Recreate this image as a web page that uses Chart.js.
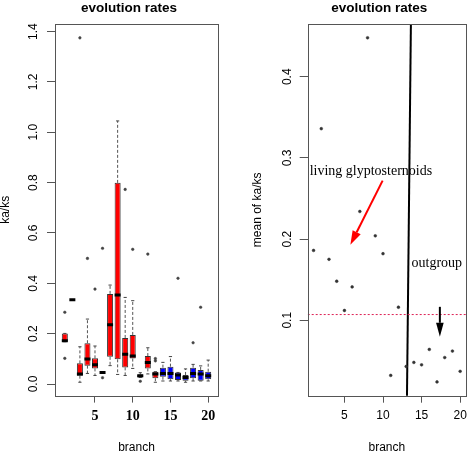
<!DOCTYPE html>
<html><head><meta charset="utf-8">
<script src="https://cdn.jsdelivr.net/npm/chart.js@4.4.1/dist/chart.umd.min.js"></script>
<style>
html,body{margin:0;padding:0;background:#fff;}
#wrap{position:relative;width:473px;height:451px;overflow:hidden;background:#fff;}
#c1{position:absolute;left:0;top:0;width:236px;height:451px;}
#c2{position:absolute;left:236px;top:0;width:237px;height:451px;}
</style></head><body>
<div id="wrap"><canvas id="c1" width="236" height="451"></canvas><canvas id="c2" width="237" height="451"></canvas></div>
<script>
// ---------- data: left panel (boxplots of ka/ks per branch) ----------
const branches = [1,2,3,4,5,6,7,8,9,10,11,12,13,14,15,16,17,18,19,20];
const branchGroup = ['in','in','in','in','in','in','in','in','in','in','in','in','in','out','out','out','out','out','out','out'];
const q1 =        [0.168,0.335,0.033,0.073,0.062,0.046,0.108,0.098,0.066,0.101,0.026,0.062,0.023,0.029,0.019,0.016,0.013,0.023,0.013,0.019];
const medians =   [0.172,0.335,0.040,0.099,0.077,0.046,0.235,0.354,0.118,0.111,0.033,0.085,0.040,0.042,0.042,0.036,0.026,0.042,0.040,0.033];
const q3 =        [0.201,0.335,0.082,0.162,0.102,0.046,0.358,0.799,0.183,0.195,0.038,0.111,0.049,0.065,0.069,0.046,0.036,0.065,0.056,0.049];
const whiskerLo = [0.168,0.335,0.007,0.042,0.034,0.046,0.073,0.038,0.034,0.062,0.026,0.040,0.007,0.012,0.012,0.012,0.007,0.012,0.012,0.012];
const whiskerHi = [0.201,0.335,0.148,0.258,0.151,0.046,0.393,1.045,0.344,0.331,0.045,0.144,0.049,0.086,0.109,0.046,0.060,0.078,0.072,0.095];
const outliers = [[0.285,0.102],[],[1.375],[0.499],[0.377],[0.539,0.025],[],[],[0.773],[0.535],[0.011],[0.516],[0.101,0.092],[],[],[0.42],[],[0.164],[0.305],[]];
const leftYTicks = [0.0,0.2,0.4,0.6,0.8,1.0,1.2,1.4];
const xTicks = [5,10,15,20];
const leftYRange = [-0.046, 1.43];
const leftXRange = [-0.3, 21.3];

// ---------- data: right panel (mean ka/ks per branch) ----------
const meanValues = [0.186,0.336,0.175,0.148,0.112,0.141,0.234,0.448,0.204,0.182,0.032,0.116,0.043,0.048,0.045,0.064,0.024,0.054,0.062,0.037];
const meanLine = 0.107;
const rightYTicks = [0.1,0.2,0.3,0.4];
const rightYRange = [0.007, 0.465];
const rightXRange = [0.24, 20.76];
const dividerX = [13.62, 13.1];
const dividerY = [0.47, 0.0];
const redArrowX = [9.95, 5.77];
const redArrowY = [0.272, 0.193];
const blackArrowX = [17.37, 17.37];
const blackArrowY = [0.1165, 0.0796];
const labelTexts = ['living glyptosternoids', 'outgroup'];
const labelX = [8.43, 16.97];
const labelY = [0.284, 0.170];

// ---------- helpers ----------
const SANS = "'Liberation Sans', Arial, sans-serif";
const SERIF = "'Liberation Serif', 'Times New Roman', serif";
Chart.defaults.font.family = SANS;
Chart.defaults.color = '#000';

function frameAndText(cfg) {
  return {
    id: 'frameAndText',
    afterDraw(chart) {
      const {ctx, chartArea: a} = chart;
      const ys = chart.scales.y;
      ctx.save();
      // frame
      ctx.strokeStyle = '#555'; ctx.lineWidth = 1;
      ctx.strokeRect(Math.round(a.left) + 0.5, Math.round(a.top) + 0.5, Math.round(a.right - a.left), Math.round(a.bottom - a.top));
      // rotated y tick labels
      ctx.fillStyle = '#000';
      ctx.font = '12px ' + SANS;
      ctx.textAlign = 'center'; ctx.textBaseline = 'middle';
      ys.ticks.forEach(t => {
        const py = ys.getPixelForValue(t.value);
        ctx.save(); ctx.translate(a.left - cfg.yLabelOffset, py); ctx.rotate(-Math.PI / 2);
        ctx.fillText(t.value.toFixed(1), 0, 0); ctx.restore();
      });
      // y axis title
      ctx.save(); ctx.translate(cfg.yTitleX, (a.top + a.bottom) / 2); ctx.rotate(-Math.PI / 2);
      ctx.fillText(cfg.yTitle, 0, 0); ctx.restore();
      // x axis title
      ctx.textBaseline = 'alphabetic';
      ctx.fillText('branch', (a.left + a.right) / 2, a.bottom + 55);
      // main title
      ctx.font = 'bold 13.5px ' + SANS;
      ctx.fillText('evolution rates', (a.left + a.right) / 2 - 7.5, 11.5);
      ctx.restore();
    }
  };
}

function fixedTicks(values) {
  return (scale) => { scale.ticks = values.map(v => ({value: v})); };
}

// ---------- left chart ----------
const boxColors = branchGroup.map(g => g === 'in' ? '#ff0000' : '#0000ff');
const whiskerPts = [];
const capPts = [];
branches.forEach((b, i) => {
  whiskerPts.push({x: b, y: q3[i]}, {x: b, y: whiskerHi[i]}, {x: b, y: null});
  whiskerPts.push({x: b, y: q1[i]}, {x: b, y: whiskerLo[i]}, {x: b, y: null});
  capPts.push({x: b, y: whiskerHi[i]}, {x: b, y: whiskerLo[i]});
});
const outlierPts = [];
branches.forEach((b, i) => outliers[i].forEach(v => outlierPts.push({x: b, y: v})));

new Chart(document.getElementById('c1'), {
  type: 'bar',
  data: {
    datasets: [
      {type: 'bar', data: branches.map((b, i) => ({x: b, y: [q1[i], q3[i]]})),
       backgroundColor: boxColors, borderColor: '#333', borderWidth: 1, borderSkipped: false,
       barPercentage: 0.8, categoryPercentage: 1, order: 2},
      {type: 'line', data: whiskerPts, borderColor: '#555', borderWidth: 1, borderDash: [3, 2],
       pointRadius: 0, spanGaps: false, order: 3},
      {type: 'line', showLine: false, data: capPts, pointStyle: 'line', pointRadius: 1.6,
       pointBorderWidth: 1, pointBorderColor: '#444', order: 1},
      {type: 'line', showLine: false, data: branches.map((b, i) => ({x: b, y: medians[i]})),
       pointStyle: 'line', pointRadius: 3, pointBorderWidth: 3, pointBorderColor: '#000', order: 0},
      {type: 'line', showLine: false, data: outlierPts, pointStyle: 'circle', pointRadius: 1.3,
       pointBackgroundColor: '#444', pointBorderColor: '#444', pointBorderWidth: 0.5, order: 0}
    ]
  },
  options: {
    responsive: false, animation: false, events: [],
    layout: {padding: {left: 0, right: 18, top: 24, bottom: 0}},
    plugins: {legend: {display: false}, tooltip: {enabled: false}},
    scales: {
      x: {type: 'linear', min: leftXRange[0], max: leftXRange[1], offset: false,
          afterBuildTicks: fixedTicks(xTicks), afterFit: (s) => { s.height = 55.4; },
          grid: {display: true, drawOnChartArea: false, drawTicks: true, tickLength: 7, color: '#555', offset: false},
          border: {display: false},
          ticks: {autoSkip: false, maxRotation: 0, padding: 5, color: '#000',
                  font: {family: SERIF, size: 14, weight: 'bold'}, callback: (v) => String(v)}},
      y: {type: 'linear', min: leftYRange[0], max: leftYRange[1],
          afterBuildTicks: fixedTicks(leftYTicks), afterFit: (s) => { s.width = 55; },
          grid: {display: true, drawOnChartArea: false, drawTicks: true, tickLength: 8, color: '#555'},
          border: {display: false},
          ticks: {display: false}}
    }
  },
  plugins: [frameAndText({yLabelOffset: 21, yTitleX: 6, yTitle: 'ka/ks'})]
});

// ---------- right chart ----------
function drawArrow(ctx, x1, y1, x2, y2, color, width, headLen, headHalf) {
  const ang = Math.atan2(y2 - y1, x2 - x1);
  const bx = x2 - Math.cos(ang) * headLen, by = y2 - Math.sin(ang) * headLen;
  ctx.strokeStyle = color; ctx.fillStyle = color; ctx.lineWidth = width;
  ctx.beginPath(); ctx.moveTo(x1, y1); ctx.lineTo(bx, by); ctx.stroke();
  ctx.beginPath(); ctx.moveTo(x2, y2);
  ctx.lineTo(bx + Math.sin(ang) * headHalf, by - Math.cos(ang) * headHalf);
  ctx.lineTo(bx - Math.sin(ang) * headHalf, by + Math.cos(ang) * headHalf);
  ctx.closePath(); ctx.fill();
}

const annotations = {
  id: 'annotations',
  beforeDatasetsDraw(chart) {
    const {ctx} = chart; const xs = chart.scales.x, ys = chart.scales.y;
    ctx.save();
    ctx.font = '14px ' + SERIF; ctx.fillStyle = '#000';
    ctx.textAlign = 'center'; ctx.textBaseline = 'middle';
    labelTexts.forEach((t, i) => ctx.fillText(t, xs.getPixelForValue(labelX[i]), ys.getPixelForValue(labelY[i])));
    ctx.restore();
  },
  afterDatasetsDraw(chart) {
    const {ctx} = chart; const xs = chart.scales.x, ys = chart.scales.y;
    ctx.save();
    drawArrow(ctx, xs.getPixelForValue(redArrowX[0]), ys.getPixelForValue(redArrowY[0]),
              xs.getPixelForValue(redArrowX[1]), ys.getPixelForValue(redArrowY[1]), '#ff0000', 2, 14, 4.5);
    drawArrow(ctx, xs.getPixelForValue(blackArrowX[0]), ys.getPixelForValue(blackArrowY[0]),
              xs.getPixelForValue(blackArrowX[1]), ys.getPixelForValue(blackArrowY[1]), '#000', 2, 14, 3.8);
    ctx.restore();
  }
};

new Chart(document.getElementById('c2'), {
  type: 'scatter',
  data: {
    datasets: [
      {data: branches.map((b, i) => ({x: b, y: meanValues[i]})), pointRadius: 1.4,
       pointBackgroundColor: '#333', pointBorderColor: '#333', pointBorderWidth: 0.5, showLine: false},
      {type: 'line', data: [{x: rightXRange[0], y: meanLine}, {x: rightXRange[1], y: meanLine}],
       borderColor: '#dd2255', borderWidth: 1, borderDash: [2, 2], pointRadius: 0},
      {type: 'line', data: dividerX.map((x, i) => ({x: x, y: dividerY[i]})),
       borderColor: '#000', borderWidth: 2, pointRadius: 0}
    ]
  },
  options: {
    responsive: false, animation: false, events: [],
    layout: {padding: {left: 0, right: 2, top: 24, bottom: 0}},
    plugins: {legend: {display: false}, tooltip: {enabled: false}},
    scales: {
      x: {type: 'linear', min: rightXRange[0], max: rightXRange[1], offset: false,
          afterBuildTicks: fixedTicks(xTicks), afterFit: (s) => { s.height = 55.3; },
          grid: {display: true, drawOnChartArea: false, drawTicks: true, tickLength: 7, color: '#555'},
          border: {display: false},
          ticks: {autoSkip: false, maxRotation: 0, padding: 6, color: '#000',
                  font: {family: SANS, size: 12}, callback: (v) => String(v)}},
      y: {type: 'linear', min: rightYRange[0], max: rightYRange[1],
          afterBuildTicks: fixedTicks(rightYTicks), afterFit: (s) => { s.width = 71.7; },
          grid: {display: true, drawOnChartArea: false, drawTicks: true, tickLength: 8, color: '#555'},
          border: {display: false},
          ticks: {display: false}}
    }
  },
  plugins: [annotations, frameAndText({yLabelOffset: 20, yTitleX: 22, yTitle: 'mean of ka/ks'})]
});
</script>
</body></html>
